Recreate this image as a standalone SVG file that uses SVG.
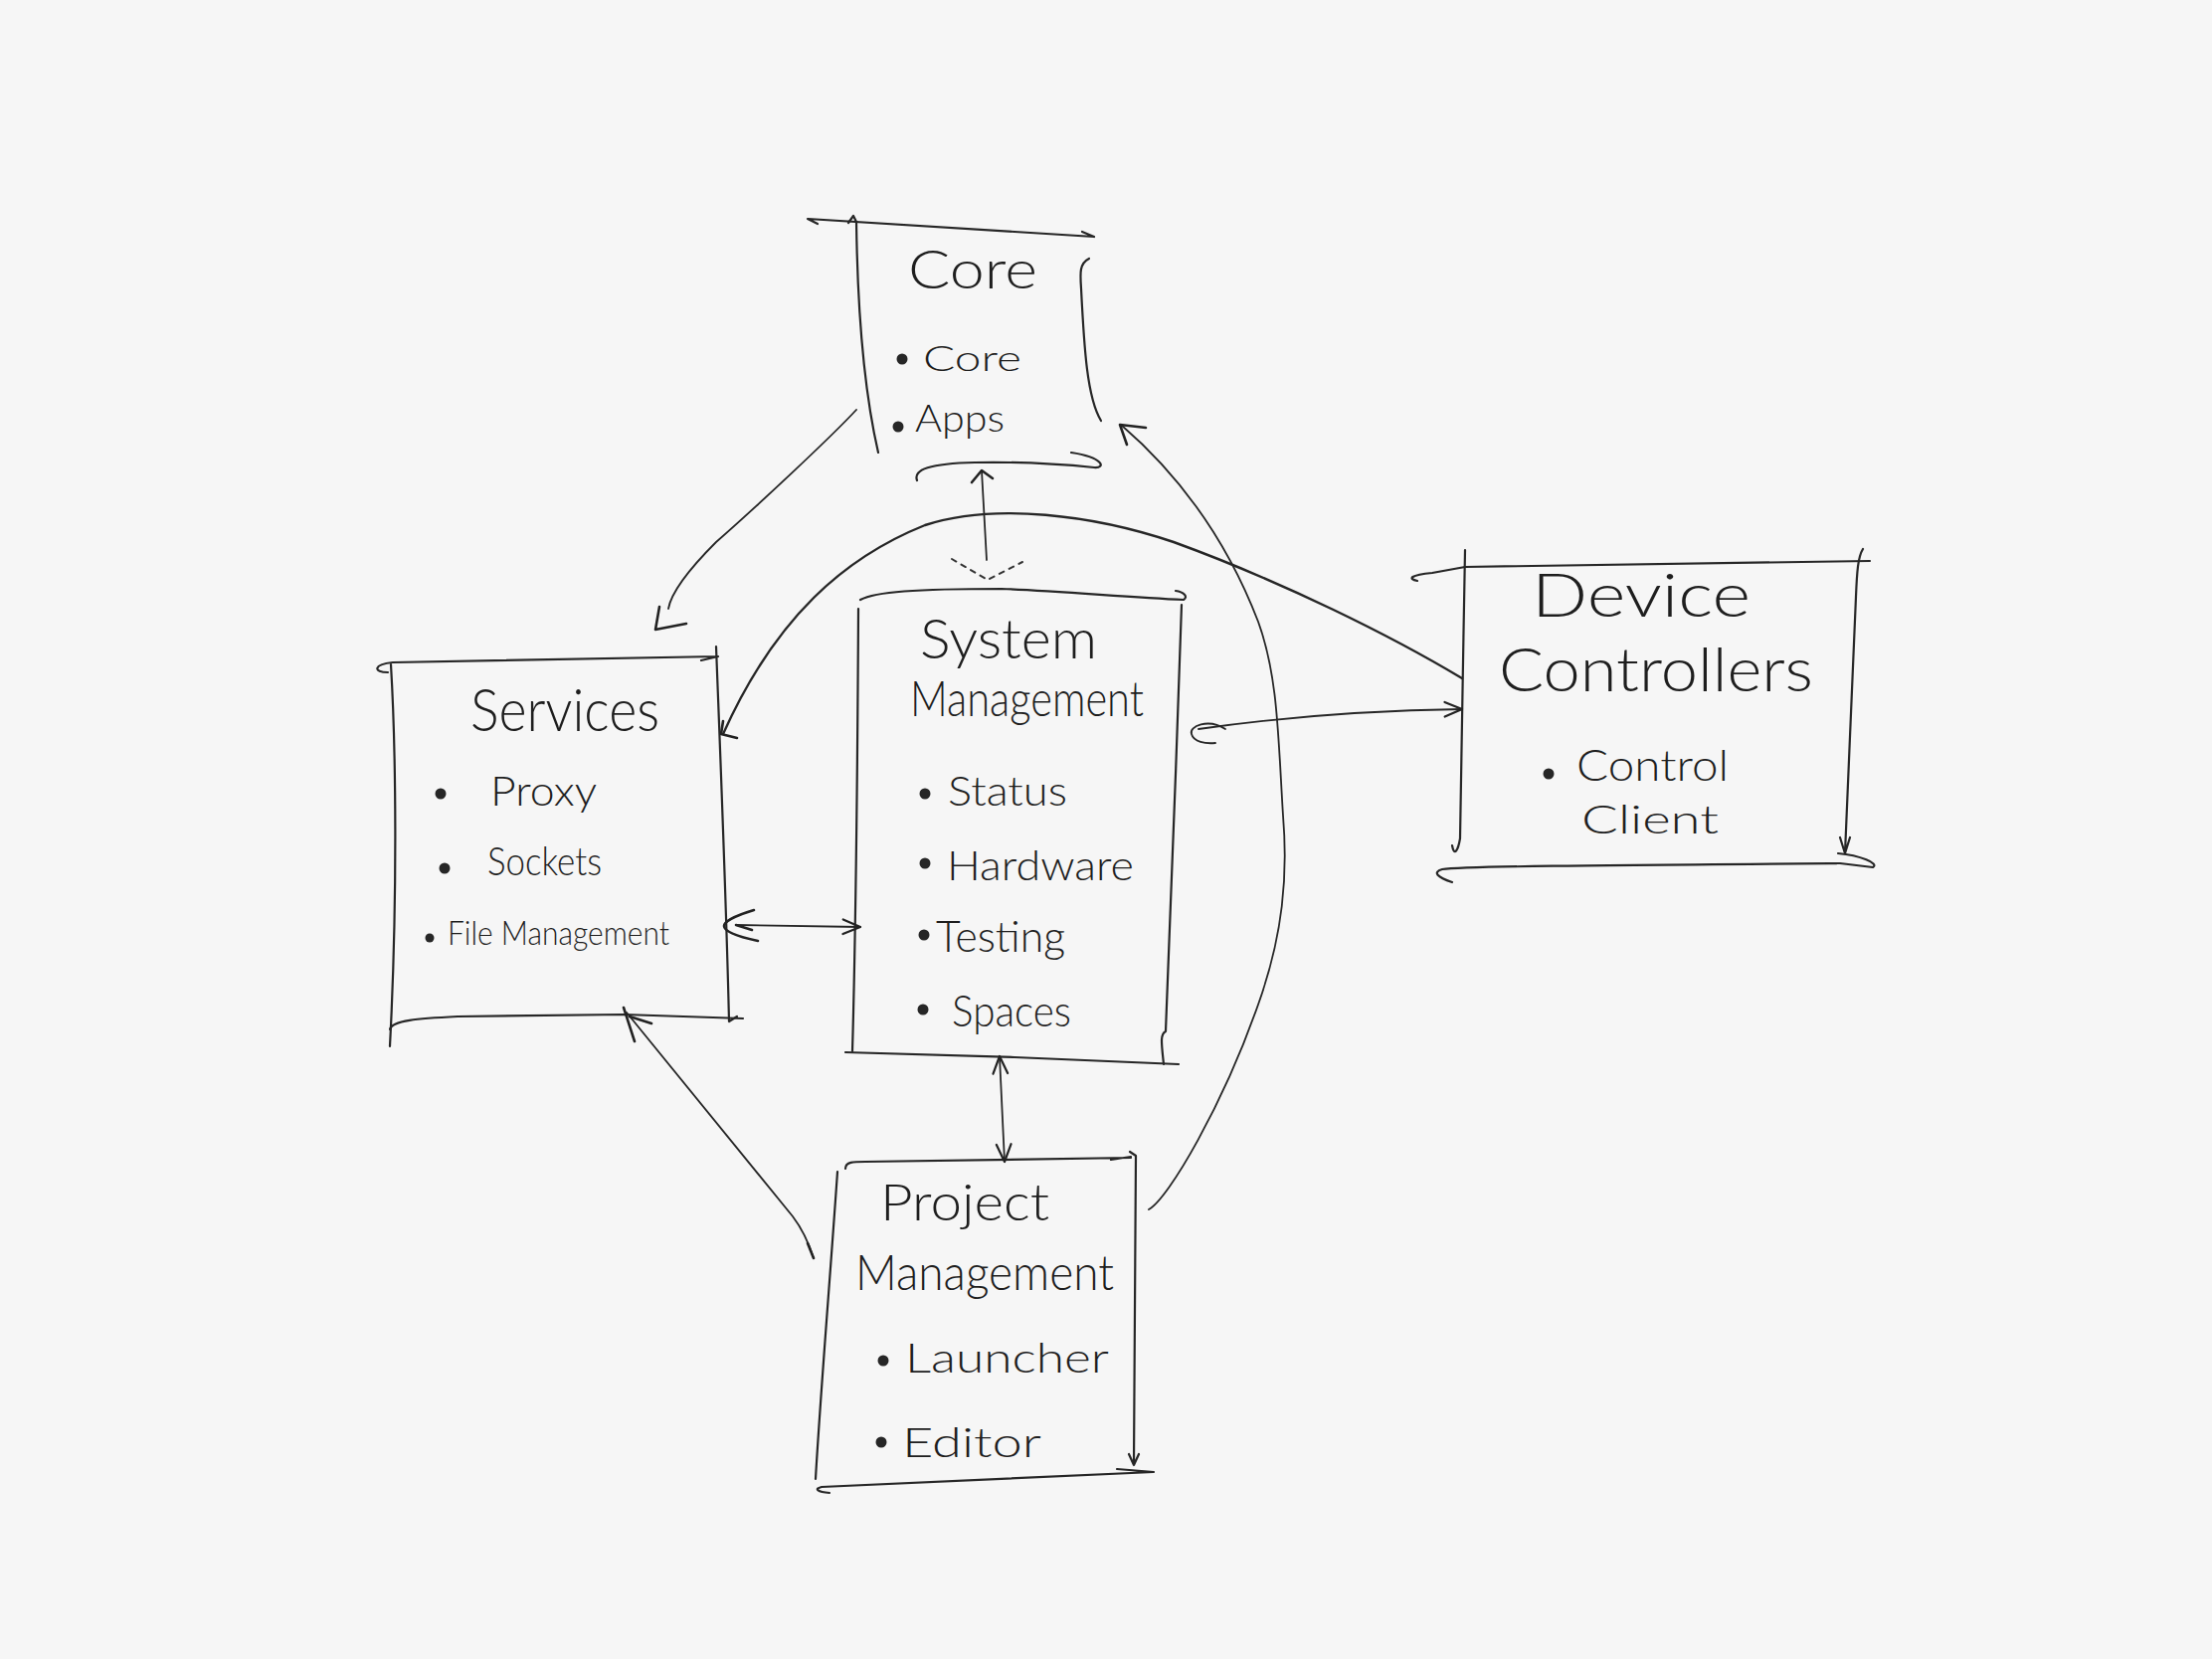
<svg xmlns="http://www.w3.org/2000/svg" width="2224" height="1668" viewBox="0 0 2224 1668">
<defs>
<style>
.ln{fill:none;stroke:#262626;stroke-width:2.2;stroke-linecap:round;stroke-linejoin:round}
.cn{fill:none;stroke:#262626;stroke-width:1.8;stroke-linecap:round;stroke-linejoin:round}
.hd{fill:none;stroke:#222;stroke-width:2.6;stroke-linecap:round;stroke-linejoin:round}
.dash{fill:none;stroke:#333;stroke-width:2;stroke-dasharray:5 6;stroke-linecap:round}
.t{font-family:Lato,"Open Sans","Liberation Sans",sans-serif;font-weight:300;fill:#1e1e1e}
.dot{fill:#262626}
</style>
<marker id="arr" viewBox="0 0 24 24" refX="22" refY="12" markerWidth="22" markerHeight="22" markerUnits="userSpaceOnUse" orient="auto-start-reverse">
<path d="M3,4 L22,12 L3,20" fill="none" stroke="#222" stroke-width="2.4" stroke-linecap="round" stroke-linejoin="round"/>
</marker>
</defs>
<rect width="2224" height="1668" fill="#f6f6f6"/>

<g id="core">
<path class="ln" d="M822,225 L812,220 L1100,238 M1088,233 L1100,238"/>
<path class="ln" d="M853,224 L858,217 L861,223 C862,300 868,390 883,455"/>
<path class="ln" d="M1095,260 C1085,265 1086,275 1087,290 C1090,350 1093,400 1107,423"/>
<path class="ln" d="M922,483 C918,472 935,466 980,465 C1030,464 1070,467 1100,470 C1112,471 1110,460 1077,455"/>
<text class="t" x="913" y="290" font-size="54" textLength="130" lengthAdjust="spacingAndGlyphs">Core</text>
<circle class="dot" cx="907" cy="361" r="5.5"/>
<text class="t" x="928" y="373" font-size="36" textLength="99" lengthAdjust="spacingAndGlyphs">Core</text>
<circle class="dot" cx="903" cy="429" r="5.5"/>
<text class="t" x="920" y="434" font-size="38" textLength="90" lengthAdjust="spacingAndGlyphs">Apps</text>
</g>

<g id="services">
<path class="ln" d="M390,676 C375,676 375,668 395,666 L722,660 M705,664 L722,660"/>
<path class="ln" d="M393,668 C398,750 400,900 392,1052"/>
<path class="ln" d="M720,650 C725,780 730,900 733,1027 M733,1027 L741,1022"/>
<path class="ln" d="M392,1035 C394,1026 420,1024 460,1022 L627,1020 L747,1024"/>
<text class="t" x="473" y="735" font-size="60" textLength="190" lengthAdjust="spacingAndGlyphs">Services</text>
<circle class="dot" cx="443" cy="798" r="5.5"/>
<text class="t" x="493" y="810" font-size="42" textLength="107" lengthAdjust="spacingAndGlyphs">Proxy</text>
<circle class="dot" cx="447" cy="873" r="5.5"/>
<text class="t" x="490" y="880" font-size="40" textLength="115" lengthAdjust="spacingAndGlyphs">Sockets</text>
<circle class="dot" cx="432" cy="943" r="4.5"/>
<text class="t" x="450" y="950" font-size="34" textLength="223" lengthAdjust="spacingAndGlyphs">File Management</text>
</g>

<g id="system-management">
<path class="ln" d="M865,603 C880,595 920,592 1007,592 C1060,594 1130,600 1190,603 C1195,600 1190,595 1182,594"/>
<path class="ln" d="M863,612 C862,800 860,950 857,1057"/>
<path class="ln" d="M1188,608 C1183,750 1178,900 1172,1037 C1166,1040 1168,1050 1170,1070"/>
<path class="ln" d="M850,1058 L1020,1063 L1185,1070"/>
<text class="t" x="925" y="662" font-size="56" textLength="178" lengthAdjust="spacingAndGlyphs">System</text>
<text class="t" x="915" y="720" font-size="50" textLength="235" lengthAdjust="spacingAndGlyphs">Management</text>
<circle class="dot" cx="930" cy="798" r="5.5"/>
<text class="t" x="953" y="810" font-size="42" textLength="120" lengthAdjust="spacingAndGlyphs">Status</text>
<circle class="dot" cx="930" cy="868" r="5.5"/>
<text class="t" x="952" y="885" font-size="42" textLength="188" lengthAdjust="spacingAndGlyphs">Hardware</text>
<circle class="dot" cx="929" cy="940" r="5.5"/>
<text class="t" x="941" y="957" font-size="44" textLength="130" lengthAdjust="spacingAndGlyphs">Testing</text>
<circle class="dot" cx="928" cy="1015" r="5.5"/>
<text class="t" x="957" y="1032" font-size="44" textLength="120" lengthAdjust="spacingAndGlyphs">Spaces</text>
</g>

<g id="device-controllers">
<path class="ln" d="M1425,584 C1415,582 1418,578 1440,576 L1473,570 L1880,564"/>
<path class="ln" d="M1473,553 C1471,650 1470,750 1468,843 C1466,855 1462,862 1460,850"/>
<path class="ln" d="M1873,552 C1868,560 1867,575 1866,600 C1862,700 1858,780 1855,858 M1850,842 L1855,858 L1860,842"/>
<path class="ln" d="M1460,887 C1445,882 1440,877 1450,874 C1470,871 1600,870 1850,868 L1883,872 C1890,868 1870,860 1848,858"/>
<text class="t" x="1540" y="620" font-size="62" textLength="220" lengthAdjust="spacingAndGlyphs">Device</text>
<text class="t" x="1507" y="695" font-size="62" textLength="316" lengthAdjust="spacingAndGlyphs">Controllers</text>
<circle class="dot" cx="1557" cy="778" r="5.5"/>
<text class="t" x="1585" y="785" font-size="44" textLength="153" lengthAdjust="spacingAndGlyphs">Control</text>
<text class="t" x="1590" y="838" font-size="40" textLength="138" lengthAdjust="spacingAndGlyphs">Client</text>
</g>

<g id="project-management">
<path class="ln" d="M850,1175 C850,1168 858,1168 870,1168 L1137,1164 M1117,1166 L1137,1163"/>
<path class="ln" d="M1136,1158 L1142,1162 C1142,1300 1141,1400 1140,1473 M1135,1462 L1140,1473 L1145,1462"/>
<path class="ln" d="M842,1178 C835,1280 825,1400 820,1487"/>
<path class="ln" d="M834,1501 C822,1500 818,1497 826,1495 L1160,1480 M1123,1477 L1160,1480"/>
<text class="t" x="885" y="1227" font-size="52" textLength="170" lengthAdjust="spacingAndGlyphs">Project</text>
<text class="t" x="860" y="1297" font-size="50" textLength="260" lengthAdjust="spacingAndGlyphs">Management</text>
<circle class="dot" cx="888" cy="1368" r="5.5"/>
<text class="t" x="910" y="1380" font-size="42" textLength="205" lengthAdjust="spacingAndGlyphs">Launcher</text>
<circle class="dot" cx="886" cy="1450" r="5.5"/>
<text class="t" x="907" y="1465" font-size="42" textLength="140" lengthAdjust="spacingAndGlyphs">Editor</text>
</g>

<g id="connectors">
<path class="cn" d="M861,412 C835,440 760,510 720,545 C695,570 675,595 672,612"/>
<path class="hd" d="M663,610 L659,633 L690,627"/>
<path class="cn" style="stroke-width:2.4" d="M1470,682 C1400,640 1290,585 1180,545 C1100,518 1000,505 930,528 C850,560 780,620 727,738"/>
<path class="hd" d="M727,725 L725,738 L741,742"/>
<path class="cn" d="M1205,733 Q1330,715 1470,713" marker-end="url(#arr)"/>
<path class="cn" d="M1232,733 C1215,722 1195,730 1198,738 C1200,746 1212,748 1222,747"/>
<path class="cn" d="M740,930 L865,932" marker-end="url(#arr)"/>
<path class="hd" d="M758,915 C748,918 728,925 728,931 C728,938 748,943 762,946 M756,935 L740,930"/>
<path class="cn" d="M987,473 L992,563"/>
<path class="hd" d="M977,485 L987,473 L998,481"/>
<path class="dash" d="M957,562 L993,583 L1028,565"/>
<path class="cn" d="M1005,1062 L1010,1168" marker-start="url(#arr)" marker-end="url(#arr)"/>
<path class="cn" d="M630,1018 L797,1223 Q810,1240 818,1265"/>
<path class="hd" d="M627,1013 L638,1047 M633,1022 L655,1029 M812,1250 L818,1265"/>
<path class="cn" d="M1155,1216 C1175,1205 1230,1110 1265,1010 C1290,940 1295,880 1290,820 C1285,740 1285,680 1265,625 C1240,560 1200,490 1127,427"/>
<path class="hd" d="M1152,430 L1126,427 L1133,447"/>
</g>
</svg>
